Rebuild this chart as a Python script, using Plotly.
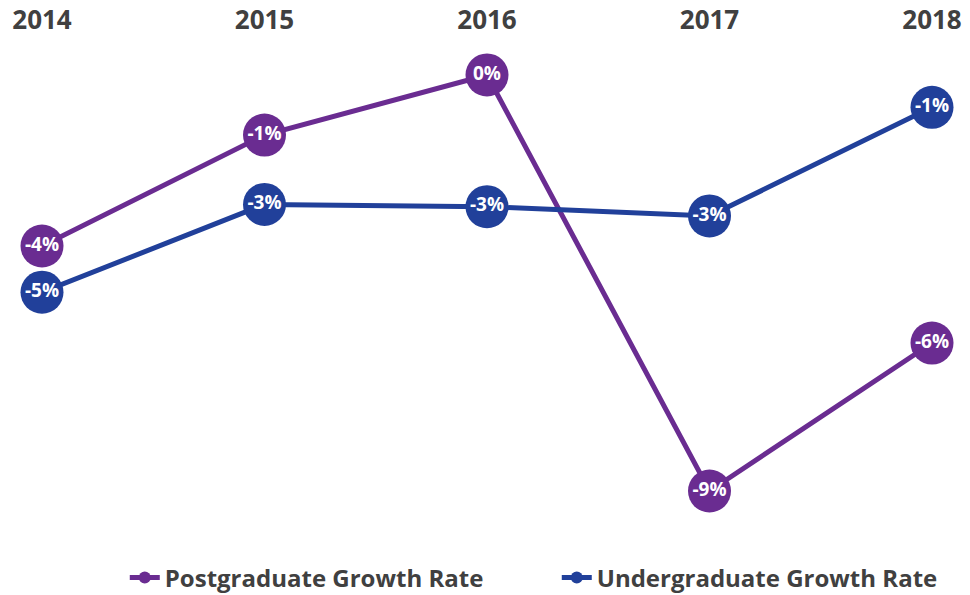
import plotly.graph_objects as go

years = ["2014", "2015", "2016", "2017", "2018"]
postgrad = [-3.7, -1.3, 0.0, -9.0, -5.8]
undergrad = [-4.7, -2.8, -2.85, -3.05, -0.7]
pg_labels = ["-4%", "-1%", "0%", "-9%", "-6%"]
ug_labels = ["-5%", "-3%", "-3%", "-3%", "-1%"]

PURPLE = "#6a2c91"
BLUE = "#21409a"
TEXT = "#404040"
FONT = "Open Sans"

fig = go.Figure()

for name, vals, labels, col in [
    ("Postgraduate Growth Rate", postgrad, pg_labels, PURPLE),
    ("Undergraduate Growth Rate", undergrad, ug_labels, BLUE),
]:
    fig.add_trace(go.Scatter(
        x=years, y=vals, mode="lines+markers+text", text=labels,
        textposition="middle center", cliponaxis=False,
        textfont=dict(family=FONT, size=19, color="white", weight="bold"),
        line=dict(color=col, width=5),
        marker=dict(color=col, size=43),
        showlegend=False, hoverinfo="skip",
    ))

for name, col in [("Postgraduate Growth Rate", PURPLE), ("Undergraduate Growth Rate", BLUE)]:
    fig.add_trace(go.Scatter(
        x=[None], y=[None], mode="lines+markers", name=name,
        line=dict(color=col, width=5), marker=dict(color=col, size=12),
    ))

fig.update_layout(
    width=970, height=595,
    margin=dict(l=42, r=38, t=35, b=65, autoexpand=False),
    plot_bgcolor="white", paper_bgcolor="white",
    font=dict(family=FONT, color=TEXT),
    xaxis=dict(
        type="category", side="top", range=[0, 4], automargin=False,
        showgrid=False, zeroline=False, showline=False, ticks="",
        tickfont=dict(family=FONT, size=26, color=TEXT, weight="bold"),
    ),
    yaxis=dict(
        range=[-9.844, 0.865], visible=False, showgrid=False, zeroline=False,
        automargin=False,
    ),
    legend=dict(
        orientation="h", x=0.093, xanchor="left",
        y=-0.097, yanchor="middle",
        font=dict(family=FONT, size=24, color=TEXT, weight="bold"),
        itemwidth=30, traceorder="normal", entrywidth=387,
    ),
)

fig.write_html(
    "out.html",
    config={"displayModeBar": False},
    post_script="document.body.style.margin='0';document.body.style.padding='0';",
)
